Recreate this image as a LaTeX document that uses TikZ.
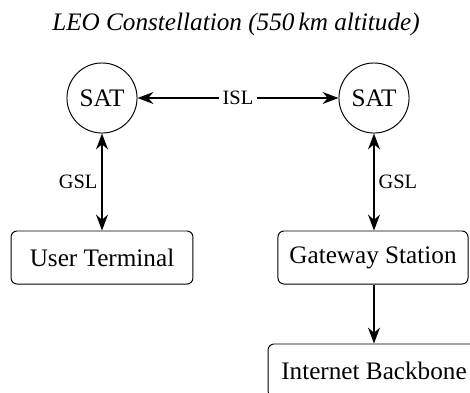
\documentclass[tikz,border=0pt]{standalone}
\usepackage{fontspec}
\setmainfont{Liberation Serif}
\usetikzlibrary{arrows.meta}
\begin{document}
\begin{tikzpicture}[x=0.4167pt, y=-0.4167pt,
  sat/.style={circle, draw, thin, minimum size=29.2pt, inner sep=0pt, font=\fontsize{10.5}{12}\selectfont},
  station/.style={rectangle, draw, thin, rounded corners=2.5pt, minimum height=22.1pt, inner sep=0pt, font=\fontsize{10.5}{12}\selectfont},
  link/.style={thick, -{Stealth}},
  duplex/.style={thick, {Stealth}-{Stealth}},
  lbl/.style={font=\fontsize{8.5}{10}\selectfont, inner sep=1.5pt}]
  \useasboundingbox (0,0) rectangle (470,392);
  \clip (0,0) rectangle (470,392);

  % constellation caption
  \node[font=\fontsize{10.5}{12}\selectfont\itshape] (title) at (236,24) {LEO Constellation (550\,km altitude)};

  % satellites
  \node[sat] (s1) at (102,98) {SAT};
  \node[sat] (s2) at (374,98) {SAT};

  % ground segment
  \node[station, minimum width=75.8pt] (ut) at (102,257.5) {User Terminal};
  \node[station, minimum width=79.2pt] (gw) at (373,257.5) {Gateway Station};
  \node[station, minimum width=88.3pt] (ib) at (374,370.5) {Internet Backbone};

  % links
  \draw[duplex] (s1) -- node[lbl, fill=white] (isl) {ISL} (s2);
  \draw[duplex] (s1) -- node[lbl, left] (gsl1) {GSL} (s1 |- ut.north);
  \draw[duplex] (s2) -- node[lbl, right] (gsl2) {GSL} (s2 |- gw.north);
  \draw[link] (gw.south -| ib) -- (ib);
\end{tikzpicture}
\end{document}
